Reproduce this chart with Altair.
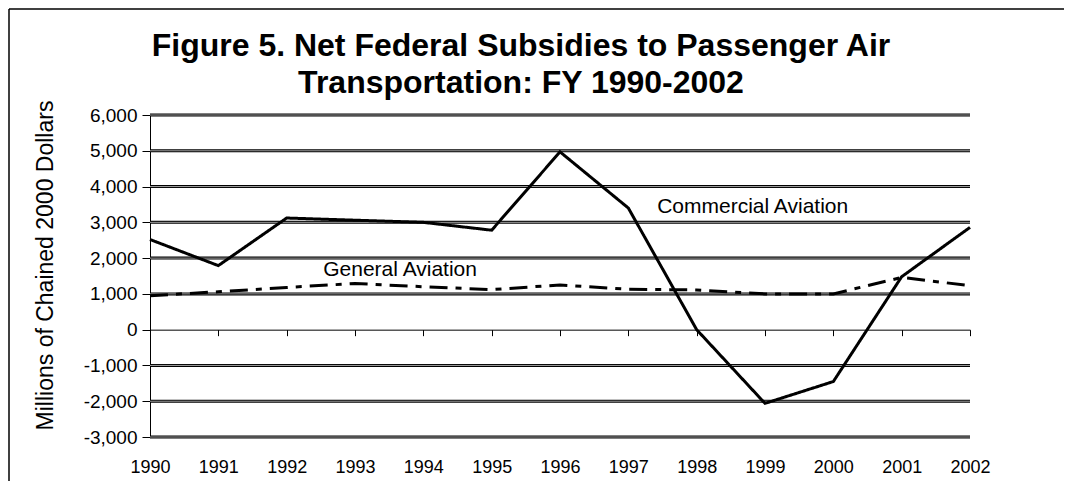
import altair as alt
import pandas as pd

years = list(range(1990, 2003))
commercial = [2520, 1790, 3120, 3060, 3000, 2780, 4970, 3400, 0, -2060, -1450, 1480, 2860]
general = [950, 1060, 1180, 1290, 1200, 1120, 1250, 1130, 1110, 1000, 1000, 1460, 1230]
series_names = ["Commercial Aviation", "General Aviation"]
label_x = [1998.82, 1993.66]
label_y = [3440, 1680]
y_ticks = list(range(-3000, 7000, 1000))
grid_values = [v for v in y_ticks if v != 0]
title_lines = ["Figure 5. Net Federal Subsidies to Passenger Air", "Transportation: FY 1990-2002"]
y_title = "Millions of Chained 2000 Dollars"

FONT = "Liberation Sans"
W, H = 820, 322

df = pd.DataFrame({
    "year": years * 2,
    "value": commercial + general,
    "series": [series_names[0]] * len(years) + [series_names[1]] * len(years),
})
labels_df = pd.DataFrame({"year": label_x, "value": label_y, "text": series_names})
grid_df = pd.DataFrame({"value": grid_values})
tick_df = pd.DataFrame({"year": years, "value": [0] * len(years)})
one = pd.DataFrame({"a": [0]})

xscale = alt.Scale(domain=[1990, 2002], nice=False, zero=False)
yscale = alt.Scale(domain=[-3000, 6000], nice=False, zero=False)
zero_offset = -H * 3 / 9  # zero line sits one third of the way up

grid_dark = alt.Chart(grid_df).mark_rule(color="black", strokeWidth=3).encode(
    y=alt.Y("value:Q", scale=yscale, axis=None)
)
grid_light = alt.Chart(grid_df).mark_rule(color="#a0a0a0", strokeWidth=1).encode(
    y=alt.Y("value:Q", scale=yscale, axis=None)
)
# invisible points that carry the x axis drawn along the zero line (domain + ticks)
zero_axis = alt.Chart(tick_df).mark_point(opacity=0).encode(
    x=alt.X("year:Q", scale=xscale, title=None,
            axis=alt.Axis(orient="bottom", values=years, labels=False, domain=True, domainColor="black",
                          domainWidth=1, ticks=True, tickSize=6, tickColor="black", tickWidth=1,
                          grid=False, offset=zero_offset)),
    y=alt.Y("value:Q", scale=yscale, axis=None),
)

lines = alt.Chart(df).mark_line(color="black", strokeWidth=3).encode(
    x=alt.X("year:Q", scale=xscale, title=None,
            axis=alt.Axis(orient="bottom", values=years, format="d", domain=False, ticks=False, grid=False,
                          labelFont=FONT, labelFontSize=18, labelColor="black", labelPadding=21,
                          labelFlush=False, labelOverlap=False)),
    y=alt.Y("value:Q", scale=yscale, title=y_title,
            axis=alt.Axis(orient="left", values=y_ticks, grid=False, domain=True, domainColor="black",
                          ticks=True, tickSize=8, tickColor="black", labelOverlap=False,
                          labelExpr="(datum.value < 0 ? '-' : '') + format(abs(datum.value), ',')",
                          labelFont=FONT, labelFontSize=19, labelColor="black", labelPadding=5,
                          titleFont=FONT, titleFontSize=23, titleFontWeight="normal", titleColor="black",
                          titleAngle=270, titleAlign="center", titleBaseline="middle",
                          titleX=-105, titleY=150)),
    strokeDash=alt.StrokeDash("series:N", scale=alt.Scale(domain=series_names, range=[[1, 0], [18, 8, 6, 8]]),
                              legend=None),
    detail="series:N",
)

texts = alt.Chart(labels_df).mark_text(font=FONT, fontSize=21, color="black").encode(
    x=alt.X("year:Q", scale=xscale, axis=None),
    y=alt.Y("value:Q", scale=yscale, axis=None),
    text="text:N",
)

frame_left = alt.Chart(one).mark_rule(color="black", strokeWidth=1.5).encode(
    x=alt.value(-141), y=alt.value(-106), y2=alt.value(H + 44)
)
frame_top = alt.Chart(one).mark_rule(color="black", strokeWidth=1.5).encode(
    x=alt.value(-141), x2=alt.value(W + 94), y=alt.value(-106)
)

chart = alt.layer(
    grid_dark, grid_light, zero_axis, lines, texts, frame_left, frame_top
).resolve_axis(
    x="independent", y="independent"
).properties(
    width=W, height=H,
    padding={"left": 142, "top": 107, "right": 94, "bottom": 44},
    autosize=alt.AutoSizeParams(type="none"),
    title=alt.TitleParams(text=title_lines, font=FONT, fontSize=32, fontWeight="bold", color="black",
                          anchor="middle", frame="group", offset=0, lineHeight=37, dx=-39, dy=92),
).configure_view(stroke=None)

chart.save("out.html", embed_options={"renderer": "svg", "actions": False})
